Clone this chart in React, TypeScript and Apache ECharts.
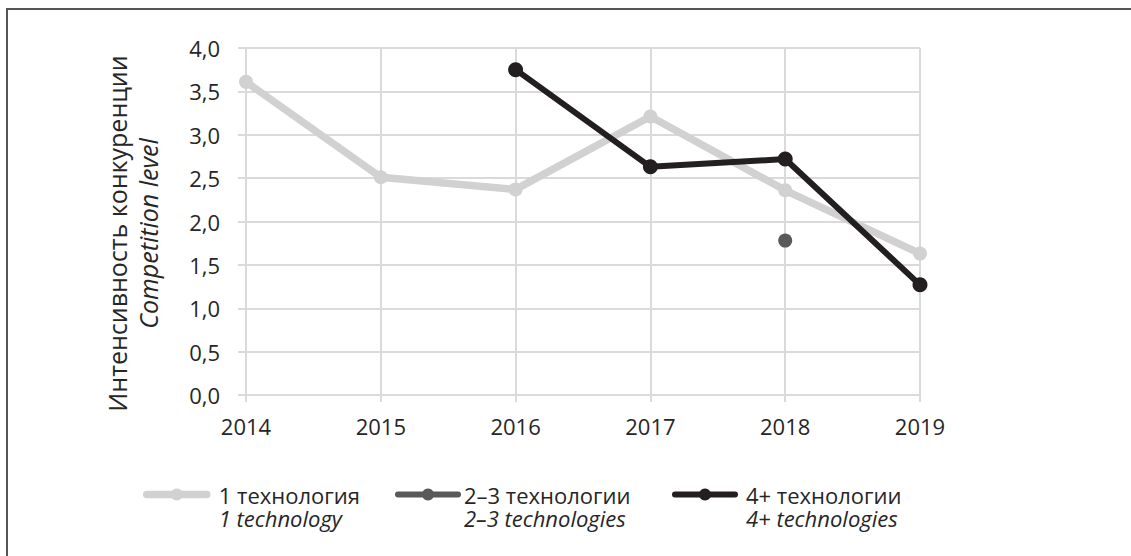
import React, { useEffect, useRef } from "react";
import * as echarts from "echarts";

const years = ["2014", "2015", "2016", "2017", "2018", "2019"];
const oneTech = [3.61, 2.51, 2.37, 3.21, 2.36, 1.63];
const twoThreeTech = [null, null, null, null, 1.78, null];
const fourPlusTech = [null, null, 3.75, 2.63, 2.72, 1.27];

const namesRu = ["1 технология", "2–3 технологии", "4+ технологии"];
const namesEn = ["1 technology", "2–3 technologies", "4+ technologies"];
const colors = ["#d1d1d1", "#595959", "#231f20"];
const lineWidths = [7.5, 6, 6];
const symbolSizes = [14, 14, 15];

const FONT = "'Open Sans', 'DejaVu Sans', sans-serif";
const TXT = "#262626";
const GRID = "#dadada";

export default function App() {
  const ref = useRef<HTMLDivElement>(null);
  useEffect(() => {
    if (!ref.current) return;
    const chart = echarts.init(ref.current, undefined, { renderer: "svg" });
    const seriesData = [oneTech, twoThreeTech, fourPlusTech];
    const legendLefts = [143, 395, 672];
    const textPads = [7, 1, 6];
    const legends = namesRu.map((n, i) => ({
      data: [n],
      left: legendLefts[i],
      top: 460,
      padding: 0,
      itemWidth: 60,
      itemHeight: 15,
      selectedMode: false,
      lineStyle: { width: lineWidths[i], cap: "round" },
      formatter: (name: string) => {
        const idx = namesRu.indexOf(name);
        return `{s| }\n{a|${name}}\n{b|${namesEn[idx]}}`;
      },
      textStyle: {
        fontFamily: FONT,
        fontSize: 22,
        color: TXT,
        padding: [0, 0, 0, textPads[i]],
        rich: {
          s: { fontSize: 22, lineHeight: 23.5, fontFamily: FONT },
          a: { fontSize: 22, lineHeight: 23.5, fontFamily: FONT, color: TXT },
          b: { fontSize: 22, lineHeight: 23.5, fontFamily: FONT, color: TXT, fontStyle: "italic" },
        },
      },
    }));
    chart.setOption({
      animation: false,
      backgroundColor: "transparent",
      grid: { left: 246, right: 211, top: 48, bottom: 161, containLabel: false },
      legend: legends,
      xAxis: {
        type: "category",
        data: years,
        boundaryGap: false,
        axisLine: { show: true, lineStyle: { color: GRID, width: 2 } },
        axisTick: { show: true, length: 7, alignWithLabel: true, lineStyle: { color: GRID, width: 2 } },
        splitLine: { show: true, lineStyle: { color: GRID, width: 2 } },
        axisLabel: { fontFamily: FONT, fontSize: 22, color: TXT, margin: 20 },
      },
      yAxis: {
        type: "value",
        min: 0,
        max: 4,
        interval: 0.5,
        name: "{a|Интенсивность конкуренции}\n{b|Competition level}",
        nameLocation: "middle",
        nameRotate: 90,
        nameGap: 83,
        nameTextStyle: {
          fontFamily: FONT,
          fontSize: 25,
          color: TXT,
          padding: [0, 24, 0, 0],
          rich: {
            a: { fontSize: 25, lineHeight: 31, fontFamily: FONT, color: TXT },
            b: { fontSize: 25, lineHeight: 31, fontFamily: FONT, color: TXT, fontStyle: "italic" },
          },
        },
        axisLine: { show: true, lineStyle: { color: GRID, width: 2 } },
        axisTick: { show: true, length: 8, lineStyle: { color: GRID, width: 2 } },
        splitLine: { show: true, lineStyle: { color: GRID, width: 2 } },
        axisLabel: {
          fontFamily: FONT,
          fontSize: 22,
          color: TXT,
          margin: 26,
          formatter: (v: number) => v.toFixed(1).replace(".", ","),
        },
      },
      series: namesRu.map((n, i) => ({
        name: n,
        type: "line",
        data: seriesData[i],
        symbol: "circle",
        symbolSize: symbolSizes[i],
        showSymbol: true,
        showAllSymbol: true,
        connectNulls: false,
        itemStyle: { color: colors[i] },
        lineStyle: { color: colors[i], width: lineWidths[i], cap: "round", join: "round" },
        z: 2 + i,
      })),
    });
    return () => chart.dispose();
  }, []);
  return (
    <>
      <div
        style={{
          position: "absolute",
          left: 6,
          top: 8,
          width: 1200,
          height: 600,
          borderTop: "2px solid #555",
          borderLeft: "2px solid #555",
        }}
      />
      <div ref={ref} style={{ position: "absolute", left: 0, top: 0, width: 1131, height: 556 }} />
    </>
  );
}
